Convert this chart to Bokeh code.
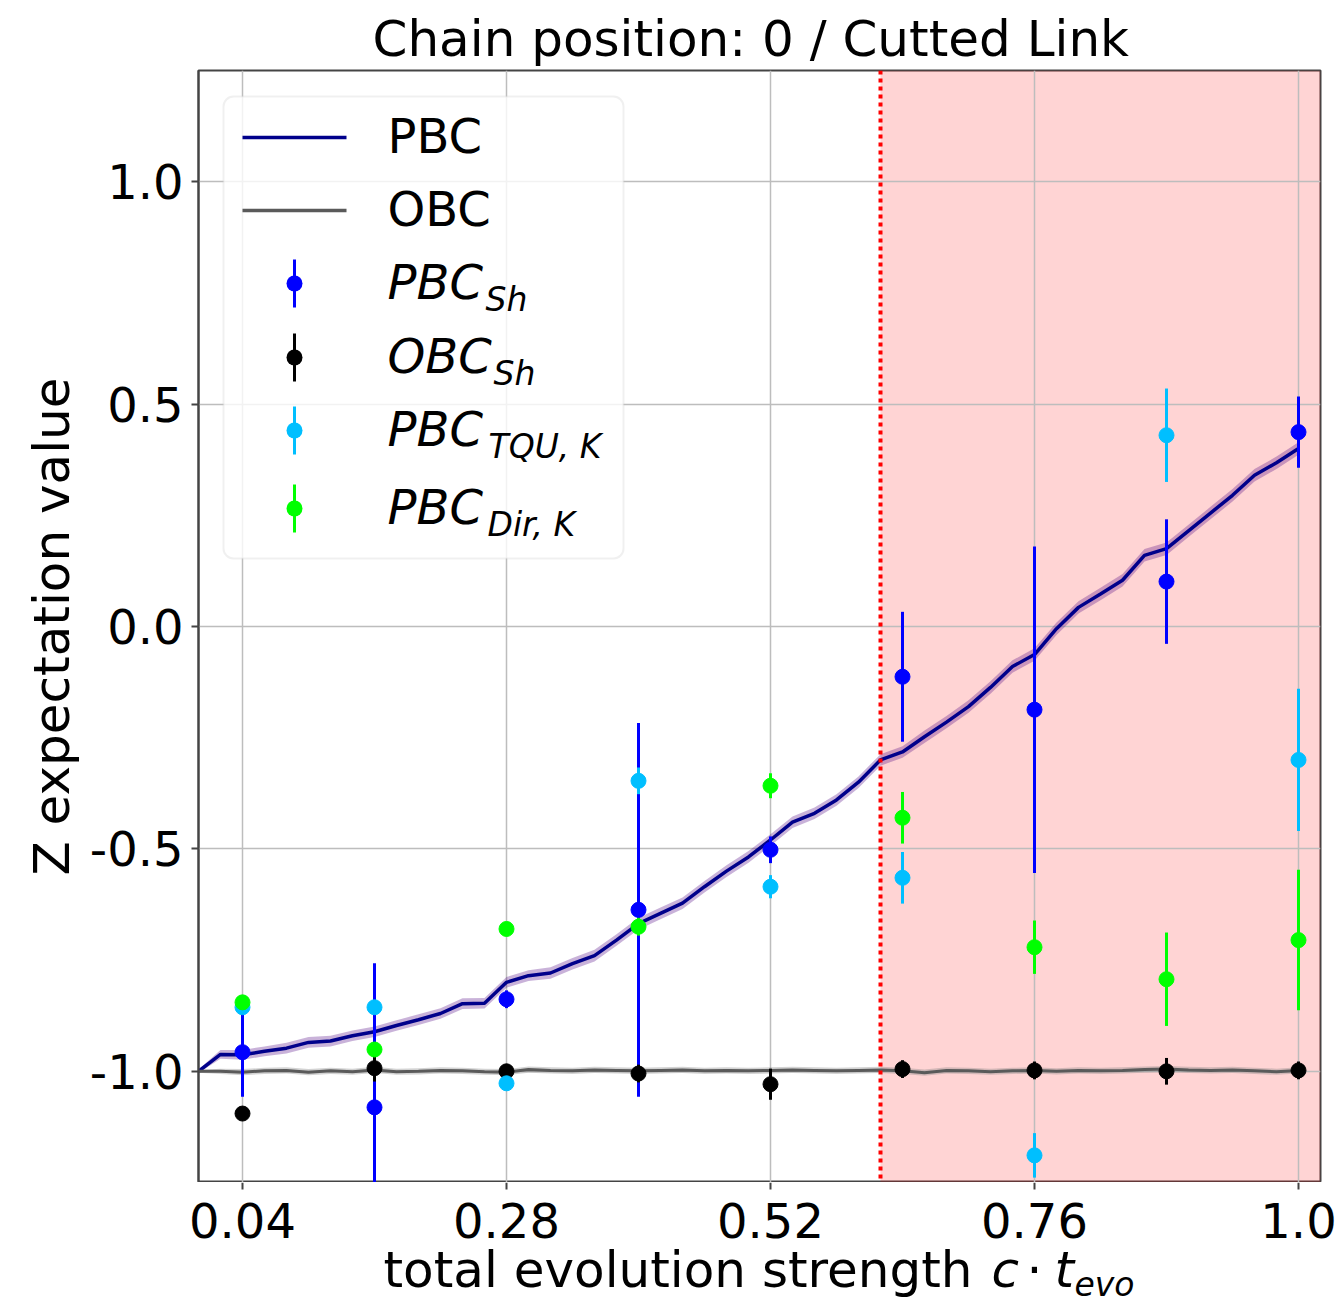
from bokeh.plotting import figure
from bokeh.layouts import column
from bokeh.models import (ColumnDataSource, BoxAnnotation, Span, Label, FixedTicker,
                          Range1d, Grid)
from bokeh.core.properties import value
from bokeh.embed import file_html
from bokeh.resources import INLINE

# ---------------- data ----------------
t_line = [0.00, 0.02, 0.04, 0.06, 0.08, 0.10, 0.12, 0.14, 0.16, 0.18,
          0.20, 0.22, 0.24, 0.26, 0.28, 0.30, 0.32, 0.34, 0.36, 0.38,
          0.40, 0.42, 0.44, 0.46, 0.48, 0.50, 0.52, 0.54, 0.56, 0.58,
          0.60, 0.62, 0.64, 0.66, 0.68, 0.70, 0.72, 0.74, 0.76, 0.78,
          0.80, 0.82, 0.84, 0.86, 0.88, 0.90, 0.92, 0.94, 0.96, 0.98, 1.00]
pbc_line = [-1.000, -0.962, -0.963, -0.955, -0.948, -0.935, -0.932, -0.920, -0.911, -0.897,
            -0.884, -0.870, -0.848, -0.847, -0.800, -0.785, -0.779, -0.758, -0.740, -0.705,
            -0.668, -0.645, -0.622, -0.585, -0.550, -0.518, -0.480, -0.440, -0.420, -0.390,
            -0.350, -0.300, -0.282, -0.248, -0.215, -0.180, -0.137, -0.090, -0.063, -0.005,
            0.043, 0.073, 0.104, 0.160, 0.175, 0.215, 0.255, 0.295, 0.340, 0.368, 0.400]
pbc_std = [0.004, 0.010, 0.011, 0.011, 0.012, 0.012, 0.012, 0.012, 0.012, 0.012,
           0.012, 0.012, 0.012, 0.012, 0.012, 0.012, 0.013, 0.013, 0.013, 0.013,
           0.013, 0.013, 0.013, 0.013, 0.013, 0.013, 0.013, 0.013, 0.013, 0.013,
           0.013, 0.013, 0.013, 0.014, 0.014, 0.014, 0.014, 0.014, 0.014, 0.014,
           0.014, 0.014, 0.014, 0.014, 0.014, 0.014, 0.014, 0.014, 0.014, 0.014, 0.014]
obc_line = [-1.000, -1.000, -1.002, -0.999, -0.998, -1.002, -0.999, -1.001, -0.997, -1.001,
            -1.000, -0.998, -0.999, -1.001, -1.002, -0.996, -0.998, -0.999, -0.997, -0.998,
            -0.999, -0.998, -0.997, -0.999, -0.998, -0.999, -0.998, -0.997, -0.998, -0.999,
            -0.998, -0.997, -0.999, -1.003, -0.998, -0.999, -1.001, -0.999, -0.998, -1.000,
            -0.998, -0.999, -0.998, -0.996, -0.995, -0.997, -0.998, -0.997, -0.999, -1.001, -0.998]
obc_std = [0.003, 0.006, 0.007, 0.007, 0.007, 0.007, 0.007, 0.007, 0.007, 0.007,
           0.007, 0.007, 0.007, 0.007, 0.007, 0.007, 0.007, 0.007, 0.007, 0.007,
           0.007, 0.007, 0.007, 0.007, 0.007, 0.007, 0.007, 0.007, 0.007, 0.007,
           0.007, 0.007, 0.007, 0.007, 0.007, 0.007, 0.007, 0.007, 0.007, 0.007,
           0.007, 0.007, 0.007, 0.007, 0.007, 0.007, 0.007, 0.007, 0.007, 0.007, 0.007]

t_pts = [0.04, 0.16, 0.28, 0.40, 0.52, 0.64, 0.76, 0.88, 1.00]
pbc_sh = [-0.957, -1.081, -0.838, -0.637, -0.502, -0.113, -0.187, 0.101, 0.437]
pbc_sh_err = [0.100, 0.324, 0.020, 0.420, 0.030, 0.146, 0.367, 0.140, 0.080]
obc_sh = [-1.095, -0.993, -1.000, -1.005, -1.029, -0.995, -0.998, -1.000, -0.998]
obc_sh_err = [0.010, 0.030, 0.015, 0.020, 0.035, 0.020, 0.020, 0.030, 0.020]
pbc_tqu = [-0.856, -0.856, -1.027, -0.347, -0.585, -0.565, -1.189, 0.430, -0.300]
pbc_tqu_err = [0.010, 0.015, 0.015, 0.030, 0.026, 0.058, 0.050, 0.105, 0.160]
pbc_dir = [-0.845, -0.951, -0.680, -0.675, -0.358, -0.430, -0.721, -0.793, -0.705]
pbc_dir_err = [0.010, 0.010, 0.010, 0.020, 0.028, 0.058, 0.060, 0.105, 0.158]

x_ticks = [0.04, 0.28, 0.52, 0.76, 1.0]
x_tick_labels = ["0.04", "0.28", "0.52", "0.76", "1.0"]
y_ticks = [-1.0, -0.5, 0.0, 0.5, 1.0]
y_tick_labels = ["-1.0", "-0.5", "0.0", "0.5", "1.0"]
cut_position = 0.62

FONT = "DejaVu Sans"
W = 1340
LEFT, RIGHT, TOP = 198, 20, 70
FRAME_W = W - LEFT - RIGHT
H_MAIN = 1182
H_LAB = 118

x_range = Range1d(0.0, 1.02)

def x_to_px(x):
    """x data value -> page pixel column of the main frame"""
    return LEFT + (x - x_range.start) / (x_range.end - x_range.start) * FRAME_W

p = figure(width=W, height=H_MAIN,
           x_range=x_range, y_range=Range1d(-1.25, 1.25),
           output_backend="svg", toolbar_location=None, x_axis_location=None,
           min_border_left=LEFT, min_border_right=RIGHT,
           min_border_top=TOP, min_border_bottom=0,
           title="Chain position: 0 / Cutted Link")
p.title.text_font = FONT
p.title.text_font_size = "50px"
p.title.text_font_style = "normal"
p.title.align = "left"
p.title.offset = 174
p.title.standoff = 6
p.title.text_color = "black"

p.outline_line_color = "#444444"
p.outline_line_width = 2

ax = p.yaxis[0]
ax.major_label_text_font = FONT
ax.major_label_text_font_size = "48px"
ax.major_label_text_color = "black"
ax.major_tick_out = 7
ax.major_tick_in = 0
ax.major_tick_line_color = "#444444"
ax.major_tick_line_width = 2
ax.minor_tick_line_color = None
ax.axis_line_color = "#444444"
ax.axis_line_width = 2
ax.major_label_standoff = 8
ax.ticker = FixedTicker(ticks=y_ticks)
ax.major_label_overrides = dict(zip(y_ticks, y_tick_labels))
ax.axis_label = "Z expectation value"
ax.axis_label_text_font = FONT
ax.axis_label_text_font_size = "50px"
ax.axis_label_text_font_style = "normal"
ax.axis_label_text_color = "black"
ax.axis_label_standoff = 6

# vertical grid lines at the x ticks (reuse the figure's own x grid if it has one)
x_grids = [g for g in p.grid if g.dimension == 0]
if x_grids:
    for g in x_grids:
        g.ticker = FixedTicker(ticks=x_ticks)
else:
    p.add_layout(Grid(dimension=0, ticker=FixedTicker(ticks=x_ticks)))
p.grid.grid_line_color = "#bdbdbd"
p.grid.grid_line_width = 1.5

# shaded cut region
p.add_layout(BoxAnnotation(left=cut_position, fill_color="red", fill_alpha=0.17,
                           line_color=None, level="image"))
p.add_layout(Span(location=cut_position, dimension="height", line_color="red",
                  line_width=4, line_dash="4 4", level="glyph"))

# continuous lines with bands
line_src = ColumnDataSource(dict(
    t=t_line, pbc=pbc_line,
    pbc_lo=[a - b for a, b in zip(pbc_line, pbc_std)],
    pbc_hi=[a + b for a, b in zip(pbc_line, pbc_std)],
    obc=obc_line,
    obc_lo=[a - b for a, b in zip(obc_line, obc_std)],
    obc_hi=[a + b for a, b in zip(obc_line, obc_std)],
))
p.varea(x="t", y1="pbc_lo", y2="pbc_hi", source=line_src, fill_color="#4b0082", fill_alpha=0.3)
p.line(x="t", y="pbc", source=line_src, line_color="#00008b", line_width=3.5)
p.varea(x="t", y1="obc_lo", y2="obc_hi", source=line_src, fill_color="#808080", fill_alpha=0.35)
p.line(x="t", y="obc", source=line_src, line_color="#5a5a5a", line_width=3)

# error bar series
series = [
    (pbc_sh, pbc_sh_err, "#0000ff"),
    (obc_sh, obc_sh_err, "#000000"),
    (pbc_tqu, pbc_tqu_err, "#00bfff"),
    (pbc_dir, pbc_dir_err, "#00ff00"),
]
for vals, errs, col in series:
    src = ColumnDataSource(dict(t=t_pts, y=vals,
                                lo=[v - e for v, e in zip(vals, errs)],
                                hi=[v + e for v, e in zip(vals, errs)]))
    p.segment(x0="t", y0="lo", x1="t", y1="hi", source=src, line_color=col, line_width=3)
    p.scatter(x="t", y="y", source=src, size=15, fill_color=col, line_color=col)

# ---------------- legend (screen units relative to frame) ----------------
def sbox(l, r, b, t, color, radius=0, alpha=1.0, line_color=None, lw=0, level="annotation"):
    p.add_layout(BoxAnnotation(left=l, right=r, bottom=b, top=t,
                               left_units="screen", right_units="screen",
                               bottom_units="screen", top_units="screen",
                               fill_color=color, fill_alpha=alpha,
                               line_color=line_color, line_width=lw,
                               border_radius=radius, level=level))

sbox(25, 425, 624, 1086, "white", radius=10, alpha=0.8, line_color="#cccccc", lw=2)

rows = [1045, 972, 899, 825, 752, 674]
leg_main = ["PBC", "OBC", "PBC", "OBC", "PBC", "PBC"]
leg_sub = ["", "", "Sh", "Sh", "TQU, K", "Dir, K"]
leg_sub_x = [0, 0, 287, 295, 290, 289]
leg_styles = ["normal", "normal", "italic", "italic", "italic", "italic"]
leg_colors = ["#00008b", "#5a5a5a", "#0000ff", "#000000", "#00bfff", "#00ff00"]

for i, yc in enumerate(rows):
    col = leg_colors[i]
    if i < 2:
        sbox(44, 148, yc - 1.75, yc + 1.75, col, level="overlay")
    else:
        sbox(94.5, 97.5, yc - 24, yc + 24, col, level="overlay")
        sbox(88, 104, yc - 8, yc + 8, col, radius=8, level="overlay")
    p.add_layout(Label(x=189, y=yc + 2, x_units="screen", y_units="screen",
                       text=leg_main[i], text_font=FONT, text_font_size="48px",
                       text_font_style=leg_styles[i], text_baseline="alphabetic",
                       text_align="left", text_color="black", level="overlay"))
    if leg_sub[i]:
        p.add_layout(Label(x=leg_sub_x[i], y=yc - 15.5, x_units="screen", y_units="screen",
                           text=leg_sub[i], text_font=FONT, text_font_size="33px",
                           text_font_style="italic", text_baseline="alphabetic",
                           text_align="left", text_color="black", level="overlay"))

# ---------------- strip below: x ticks, tick labels, x-axis label ----------------
p2 = figure(width=W, height=H_LAB,
            x_range=Range1d(0, W), y_range=Range1d(0, H_LAB),
            output_backend="svg", toolbar_location=None,
            x_axis_location=None, y_axis_location=None,
            min_border=0)
if "frame_align" in p2.properties():
    p2.frame_align = False
p2.grid.visible = False
p2.outline_line_color = None

tick_px = [x_to_px(t) for t in x_ticks]
p2.segment(x0=tick_px, y0=[H_LAB] * len(tick_px), x1=tick_px, y1=[H_LAB - 7] * len(tick_px),
           line_color="#444444", line_width=2)
p2.text(x=tick_px, y=[80] * len(tick_px), text=x_tick_labels,
        text_font=value(FONT), text_font_size=value("48px"),
        text_baseline="alphabetic", text_align="center", text_color="black")

xl_parts = [
    (383, 31, "total evolution strength", "normal", "50px", "left"),
    (991, 31, "c", "italic", "50px", "left"),
    (1034, 31, "\u00b7", "normal", "50px", "center"),
    (1054, 31, "t", "italic", "50px", "left"),
    (1074, 16, "evo", "italic", "33px", "left"),
]
for px, y, txt, sty, fs, al in xl_parts:
    p2.text(x=[px], y=[y], text=[txt], text_font=value(FONT), text_font_size=value(fs),
            text_font_style=sty, text_baseline="alphabetic", text_align=al,
            text_color="black")

layout = column(p, p2, spacing=0)
open("out.html", "w").write(file_html(layout, INLINE))
